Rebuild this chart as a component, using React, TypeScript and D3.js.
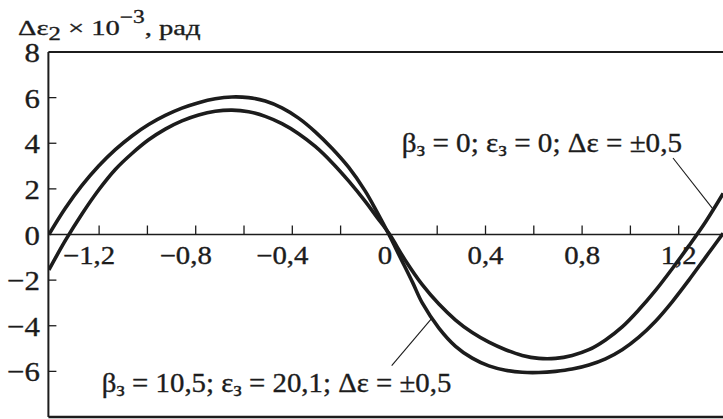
import React from "react";
import * as d3 from "d3";

// Curve for β₃ = 10,5; ε₃ = 20,1 (outer curve)
const xOuter = [-1.408, -1.34, -1.271, -1.202, -1.133, -1.064, -0.995, -0.926, -0.857, -0.788, -0.719, -0.65, -0.581, -0.512, -0.443, -0.374, -0.305, -0.236, -0.167, -0.098, -0.049, 0, 0.049, 0.098, 0.138, 0.207, 0.276, 0.345, 0.414, 0.483, 0.552, 0.621, 0.69, 0.759, 0.828, 0.897, 0.966, 1.035, 1.104, 1.173, 1.242, 1.311, 1.384];
const yOuter = [0, 1.15, 2.15, 3.0, 3.72, 4.32, 4.82, 5.22, 5.54, 5.78, 5.95, 6.03, 6.0, 5.85, 5.55, 5.1, 4.5, 3.78, 2.95, 1.9, 0.98, 0, -1.05, -2.1, -3.0, -4.1, -4.9, -5.42, -5.76, -5.95, -6.04, -6.05, -6.0, -5.9, -5.72, -5.45, -5.05, -4.5, -3.8, -2.95, -2.0, -1.0, 0.05];

// Curve for β₃ = 0; ε₃ = 0 (inner curve)
const xInner = [-1.408, -1.339, -1.271, -1.202, -1.133, -1.064, -0.995, -0.926, -0.857, -0.788, -0.719, -0.65, -0.581, -0.512, -0.443, -0.374, -0.305, -0.236, -0.167, -0.098, -0.049, 0, 0.069, 0.138, 0.207, 0.276, 0.345, 0.414, 0.483, 0.552, 0.621, 0.69, 0.759, 0.828, 0.897, 0.966, 1.035, 1.104, 1.173, 1.242, 1.311, 1.384];
const yInner = [-1.55, -0.25, 0.9, 1.95, 2.85, 3.55, 4.15, 4.62, 4.98, 5.24, 5.4, 5.45, 5.38, 5.18, 4.86, 4.42, 3.86, 3.16, 2.35, 1.45, 0.75, 0.05, -1.15, -2.2, -3.05, -3.75, -4.3, -4.72, -5.05, -5.3, -5.43, -5.43, -5.3, -5.05, -4.62, -4.05, -3.3, -2.45, -1.5, -0.5, 0.55, 1.8];

const xMinorTicks = [-1.2, -1.0, -0.8, -0.6, -0.4, -0.2, 0.2, 0.4, 0.6, 0.8, 1.0, 1.2];
const xTickLabels = [-1.2, -0.8, -0.4, 0, 0.4, 0.8, 1.2];
const yTicks = [-6, -4, -2, 2, 4, 6];
const yTickLabels = [8, 6, 4, 2, 0, -2, -4, -6];

// Where the leader lines touch the curves (x values)
const innerLeaderX = 1.343;
const outerLeaderX = 0.179;

const W = 723;
const H = 419;
const FONT = "'Liberation Serif', 'Times New Roman', serif";
const INK = "#1c1c1c";

const fmt = (v: number) => {
  if (v === 0) return "0";
  const s = Math.abs(v).toFixed(1).replace(".", ",");
  return v < 0 ? "\u2212" + s : s;
};

// value of a polyline series at x
const valueAt = (xs: number[], ys: number[], xv: number) => {
  const i = Math.max(1, Math.min(xs.length - 1, d3.bisectLeft(xs, xv)));
  const t = (xv - xs[i - 1]) / (xs[i] - xs[i - 1]);
  return ys[i - 1] + t * (ys[i] - ys[i - 1]);
};

type TProps = {
  x: number;
  y: number;
  size: number;
  sx?: number;
  anchor?: "start" | "middle" | "end";
  children: React.ReactNode;
};

const T = ({ x, y, size, sx = 1, anchor = "start", children }: TProps) => (
  <text
    transform={`translate(${x},${y}) scale(${sx},1)`}
    fontFamily={FONT}
    fontSize={size}
    textAnchor={anchor}
    fill={INK}
    stroke={INK}
    strokeWidth={0.35}
  >
    {children}
  </text>
);

export default function App() {
  const x = d3.scaleLinear().domain([-1.41, 1.4]).range([48.4, 727]);
  const y = d3.scaleLinear().domain([-8, 8]).range([417, 52]);

  const line = d3
    .line<[number, number]>()
    .x((d) => x(d[0]))
    .y((d) => y(d[1]))
    .curve(d3.curveCatmullRom.alpha(0.5));

  const outerPts = xOuter.map((v, i) => [v, yOuter[i]] as [number, number]);
  const innerPts = xInner.map((v, i) => [v, yInner[i]] as [number, number]);

  const x0 = x(-1.41);
  const yZero = y(0);
  const subSize = 21;

  const innerLeaderY = valueAt(xInner, yInner, innerLeaderX);
  const outerLeaderY = valueAt(xOuter, yOuter, outerLeaderX);

  return (
    <svg
      width={W}
      height={H}
      style={{ position: "absolute", left: 0, top: 0, background: "#fff" }}
    >
      <defs>
        <clipPath id="plot">
          <rect x={x0} y={y(8)} width={W - x0} height={y(-8) - y(8)} />
        </clipPath>
      </defs>

      {/* frame */}
      <line x1={x0} x2={W + 5} y1={y(8)} y2={y(8)} stroke={INK} strokeWidth={2} />
      <line x1={x0} x2={W + 5} y1={y(-8)} y2={y(-8)} stroke={INK} strokeWidth={2.4} />
      <line x1={x0} x2={x0} y1={y(8)} y2={y(-8)} stroke={INK} strokeWidth={2} />

      {/* zero axis with ticks */}
      <line x1={x0} x2={W + 5} y1={yZero} y2={yZero} stroke={INK} strokeWidth={1.6} />
      {xMinorTicks.map((t) => (
        <line key={t} x1={x(t)} x2={x(t)} y1={yZero} y2={yZero - 9} stroke={INK} strokeWidth={1.3} />
      ))}
      {yTicks.map((t) => (
        <line key={t} x1={x0} x2={x0 + 8} y1={y(t)} y2={y(t)} stroke={INK} strokeWidth={1.3} />
      ))}

      {/* tick labels */}
      {xTickLabels.map((t) => (
        <T key={t} x={x(t) + (t < 0 ? -10 : t === 0 ? -4 : 0)} y={yZero + 29} size={25} sx={1.15} anchor="middle">
          {fmt(t)}
        </T>
      ))}
      {yTickLabels.map((t) => (
        <T key={t} x={40} y={y(t) + 10} size={28} sx={1.1} anchor="end">
          {t < 0 ? "\u2212" + Math.abs(t) : String(t)}
        </T>
      ))}

      {/* axis title */}
      <T x={18} y={35} size={22} sx={1.3}>
        {"\u0394\u03b5"}
        <tspan fontSize={19} dy={5}>2</tspan>
        <tspan dy={-5}>{" \u00d7 10"}</tspan>
        <tspan fontSize={18} dy={-12}>{"\u22123"}</tspan>
        <tspan dy={12}>{", рад"}</tspan>
      </T>

      {/* curves */}
      <g clipPath="url(#plot)" fill="none" stroke={INK} strokeWidth={3.6} strokeLinejoin="round">
        <path d={line(outerPts) ?? ""} />
        <path d={line(innerPts) ?? ""} />
      </g>

      {/* leader lines */}
      <line x1={673} y1={158} x2={x(innerLeaderX)} y2={y(innerLeaderY)} stroke={INK} strokeWidth={1.1} />
      <line x1={391.7} y1={365.7} x2={x(outerLeaderX)} y2={y(outerLeaderY)} stroke={INK} strokeWidth={1.1} />

      {/* curve captions */}
      <T x={401.7} y={152} size={28} sx={1.04}>
        {"\u03b2"}
        <tspan fontSize={subSize} dy={4}>з</tspan>
        <tspan dy={-4}>{" = 0; \u03b5"}</tspan>
        <tspan fontSize={subSize} dy={4}>з</tspan>
        <tspan dy={-4}>{" = 0; \u0394\u03b5 = \u00b10,5"}</tspan>
      </T>
      <T x={101.7} y={392} size={28} sx={1.03}>
        {"\u03b2"}
        <tspan fontSize={subSize} dy={4}>з</tspan>
        <tspan dy={-4}>{" = 10,5; \u03b5"}</tspan>
        <tspan fontSize={subSize} dy={4}>з</tspan>
        <tspan dy={-4}>{" = 20,1; \u0394\u03b5 = \u00b10,5"}</tspan>
      </T>
    </svg>
  );
}
